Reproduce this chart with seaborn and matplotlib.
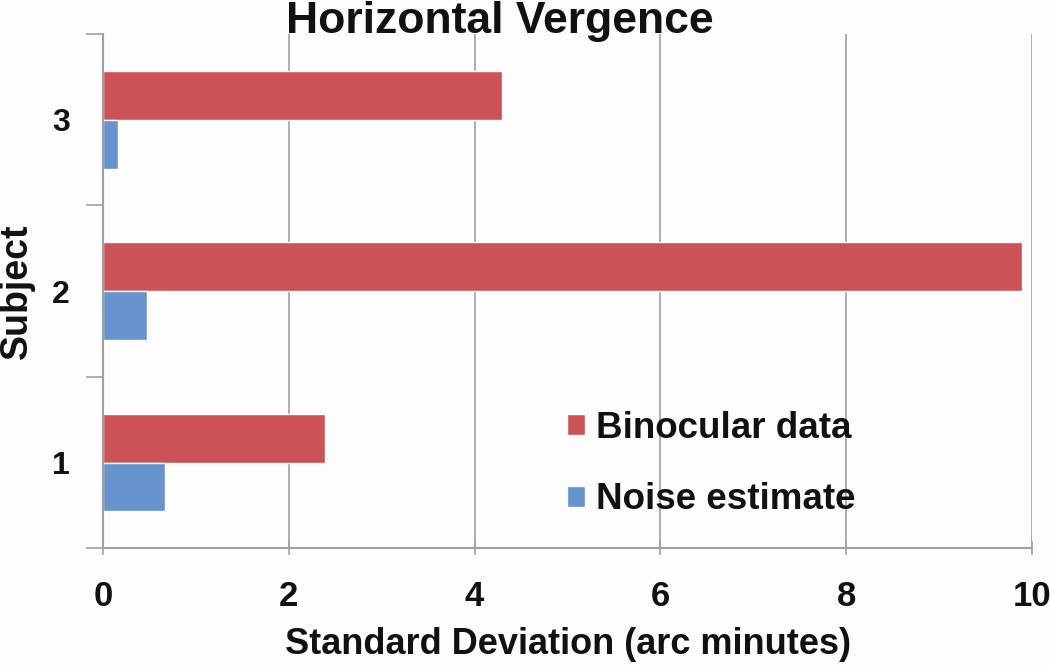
import pandas as pd
import numpy as np
import matplotlib
matplotlib.use("Agg")
import matplotlib.pyplot as plt
import seaborn as sns

# ==========================================
# DATA
# ==========================================

subjects = ["3", "2", "1"]
series = ["Binocular data", "Noise estimate"]
binocular = [4.30, 9.89, 2.39]
noise = [0.16, 0.47, 0.67]
x_ticks = [0, 2, 4, 6, 8, 10]

data = pd.DataFrame({
    "Subject": subjects * 2,
    "SD": binocular + noise,
    "Series": [series[0]] * 3 + [series[1]] * 3,
})

# ==========================================
# STYLE
# ==========================================

sns.set_style("white")
plt.rcParams["font.family"] = ["Liberation Sans", "DejaVu Sans"]
plt.rcParams["font.weight"] = "bold"

colors = ["#CC5257", "#6694CF"]
grey = "#a0a0a0"
ink = "#111111"

fig = plt.figure(figsize=(10.5, 6.67), dpi=100)
fig.patch.set_facecolor("#fdfdfd")
ax = fig.add_axes([0.098, 0.178, 0.885, 0.771])
ax.set_facecolor("#fdfdfd")

sns.barplot(
    data=data,
    x="SD",
    y="Subject",
    hue="Series",
    order=subjects,
    hue_order=series,
    palette=colors,
    orient="h",
    width=0.57,
    saturation=1,
    ax=ax,
)

# ==========================================
# AXES
# ==========================================

ax.set_xlim(0, 10)
ax.set_ylim(2.5, -0.5)
ax.set_xticks(x_ticks)
ax.set_xticklabels([str(t) for t in x_ticks], fontsize=25, fontweight="bold", color=ink)
ax.xaxis.grid(True, color=grey, linewidth=1.2)
ax.set_axisbelow(True)

ax.set_yticks([-0.5, 0.5, 1.5, 2.5])
ax.set_yticklabels([])
ax.set_yticks([0, 1, 2], minor=True)
ax.set_yticklabels(subjects, minor=True, fontsize=23, fontweight="bold", color=ink)
ax.tick_params(axis="y", which="major", length=12, width=1.2, color=grey, direction="out", left=True)
ax.tick_params(axis="y", which="minor", length=0, pad=24)
ax.tick_params(axis="x", length=10, width=1.2, color=grey, direction="inout", pad=18, bottom=True)

for side in ["top", "right"]:
    ax.spines[side].set_visible(False)
for side in ["left", "bottom"]:
    ax.spines[side].set_color(grey)
    ax.spines[side].set_linewidth(1.5)

ax.set_xlabel("Standard Deviation (arc minutes)", fontsize=26, fontweight="bold", color=ink,
              labelpad=10)
ax.set_ylabel("Subject", fontsize=27, fontweight="bold", color=ink)
ax.yaxis.set_label_coords(-0.073, 0.5)

fig.text(500 / 1050, 1 - 33 / 667, "Horizontal Vergence", ha="center", va="baseline",
         fontsize=32, fontweight="bold", color=ink)

ax.legend(
    loc="upper left",
    bbox_to_anchor=(0.508, 0.434),
    bbox_transform=fig.transFigure,
    frameon=False,
    fontsize=26.5,
    handlelength=0.5,
    handleheight=0.5,
    handletextpad=0.3,
    labelspacing=1.0,
    labelcolor=ink,
)

fig.savefig("out.png", dpi=100, facecolor=fig.get_facecolor())
